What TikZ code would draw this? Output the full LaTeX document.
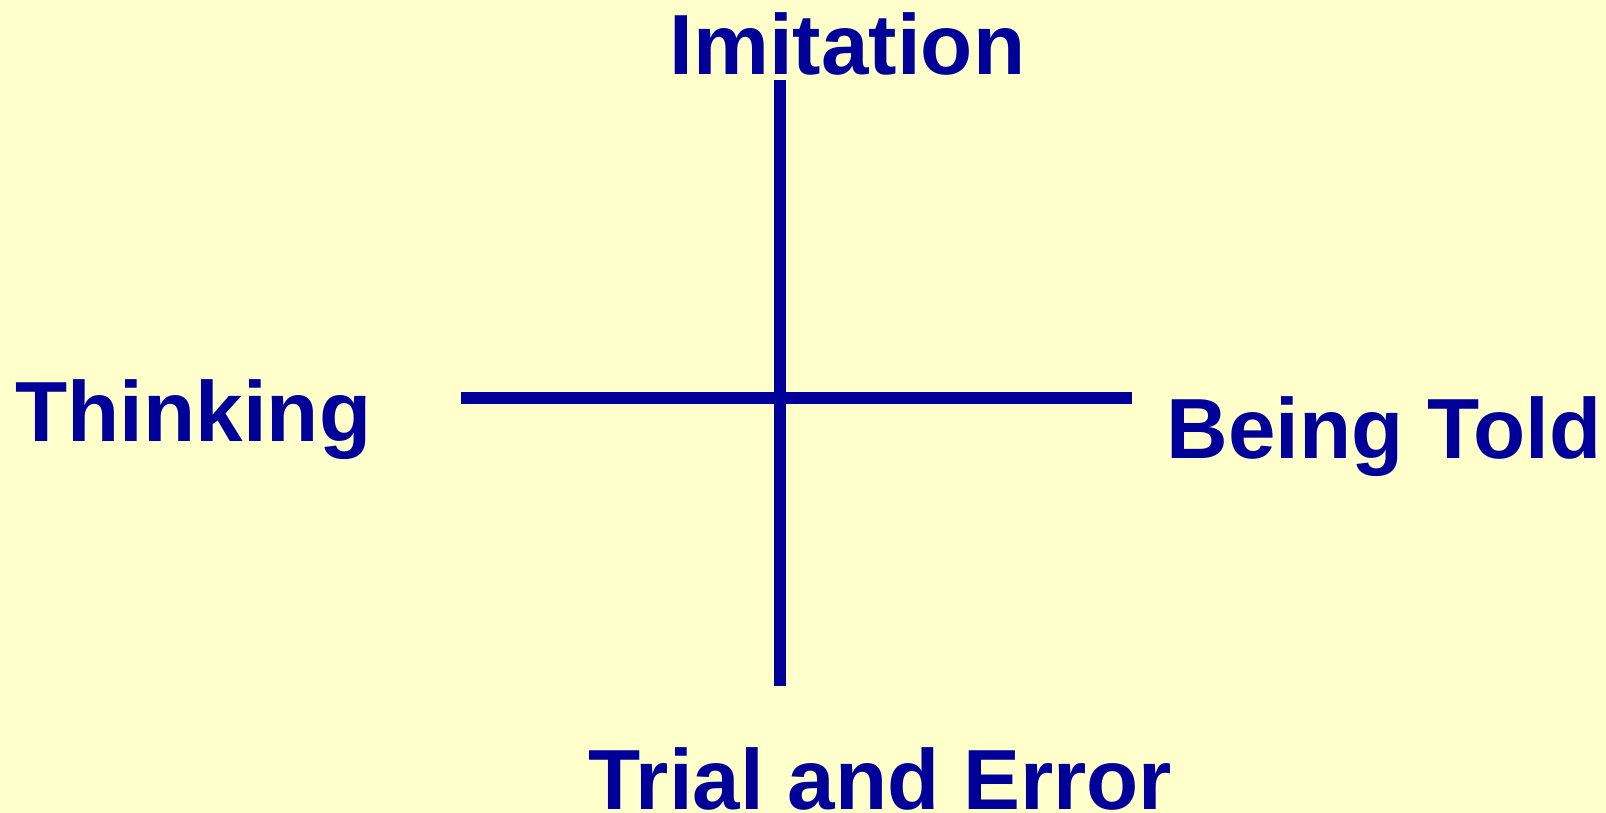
\documentclass[tikz,border=0pt]{standalone}
\usepackage{fontspec}
\setmainfont{Liberation Sans}
\usepackage{xcolor}
\usetikzlibrary{positioning}
\definecolor{axisBlue}{HTML}{000099}
\definecolor{paperYellow}{HTML}{FFFFCC}
\tikzset{
  label/.style={
    inner sep=0pt,
    text=axisBlue,
    font=\fontsize{42.7}{50}\selectfont\bfseries
  },
  axis/.style={
    draw=axisBlue,
    line width=5.6pt
  }
}
\begin{document}
\begin{tikzpicture}[x=0.5pt,y=-0.5pt]
  \fill[paperYellow] (0,0) rectangle (1606,813);
  \useasboundingbox (0,0) rectangle (1606,813);
  % ends of the two axes
  \coordinate (top) at (780,80);
  \coordinate (bottom) at (780,686);
  \coordinate (left) at (461,398);
  \coordinate (right) at (1132,398);
  \draw[axis] (top) -- (bottom);
  \draw[axis] (left) -- (right);
  % labels
  \node[label,anchor=base west] (imitation) at (669,75) {Imitation};
  \node[label,anchor=base west] (thinking) at (15,441) {Thinking};
  \node[label,anchor=base west] (told) at (1166,458) {Being Told};
  \node[label,anchor=base west] (trial) at (588,809) {Trial and Error};
\end{tikzpicture}
\end{document}
